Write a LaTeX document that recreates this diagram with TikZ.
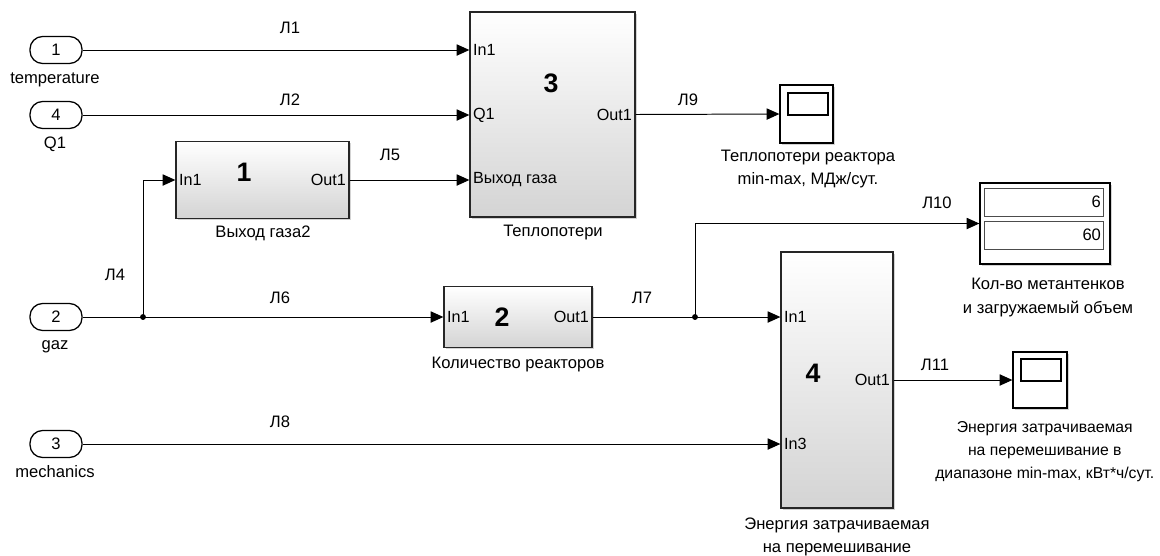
\documentclass[tikz,border=0pt]{standalone}
\usepackage{fontspec}
\setmainfont{Liberation Sans}
\usetikzlibrary{arrows.meta,calc,positioning,shadows}
\newcommand{\pxl}{0.7113pt}
\tikzset{
	blk/.style={draw=black!85,line width=0.9pt,top color=white,bottom color=black!17,
		drop shadow={shadow xshift=1.2pt,shadow yshift=-1.2pt,opacity=0.35}},
	inport/.style={draw,line width=0.9pt,rounded corners=9pt,fill=white,
		minimum width=52*\pxl,minimum height=27*\pxl,inner sep=0pt},
	scopebox/.style={draw,line width=0.9pt,fill=white,inner sep=0pt,
		drop shadow={shadow xshift=1.2pt,shadow yshift=-1.2pt,opacity=0.35}},
	sig/.style={line width=0.7pt,-{Triangle[length=9pt,width=8pt]}},
	wire/.style={line width=0.7pt},
	lbl/.style={inner sep=1pt,font=\fontsize{11.8}{16.4}\selectfont},
	port/.style={inner sep=2.5pt,font=\fontsize{11.5}{14}\selectfont},
	num/.style={inner sep=0pt,font=\fontsize{19}{20}\selectfont\bfseries},
	blkcap/.style={align=center,inner sep=1pt,font=\fontsize{11.8}{16.4}\selectfont}
}
\begin{document}
\begin{tikzpicture}[x=0.025cm,y=-0.025cm]
	\useasboundingbox (0,0) rectangle (1160,555);
	\node[inport] (in1) at (56,50) {\fontsize{11.8}{14}\selectfont 1};
	\node[inport] (in4) at (56,115) {\fontsize{11.8}{14}\selectfont 4};
	\node[inport] (in2) at (56,317) {\fontsize{11.8}{14}\selectfont 2};
	\node[inport] (in3) at (56,444) {\fontsize{11.8}{14}\selectfont 3};
	\path
	(55,80) node[blkcap]{temperature}
	(55,144) node[blkcap]{Q1}
	(55,347) node[blkcap]{gaz}
	(55,472) node[blkcap]{mechanics}
	;
	\node[blk,minimum width=173*\pxl,minimum height=77*\pxl] (b1) at (262.5,180) {};
	\node[blk,minimum width=165*\pxl,minimum height=205*\pxl] (b3) at (552.5,114.5) {};
	\node[blk,minimum width=148*\pxl,minimum height=61*\pxl] (b2) at (518,317) {};
	\node[blk,minimum width=112*\pxl,minimum height=256*\pxl] (b4) at (837,380) {};
	\node[scopebox,minimum width=53*\pxl,minimum height=58*\pxl] (s1) at (806.5,114) {};
	\node[scopebox,minimum width=54*\pxl,minimum height=56*\pxl] (s2) at (1040,380) {};
	\node[scopebox,minimum width=130*\pxl,minimum height=81*\pxl] (disp) at (1045,223.5) {};
	\draw[line width=0.8pt] ($(s1.center)+(-18.5,-21)$) rectangle ($(s1.center)+(21.5,1)$);
	\draw[line width=0.8pt] ($(s2.center)+(-19,-21)$) rectangle ($(s2.center)+(21,1)$);
	\draw[line width=0.6pt,draw=black!70] ($(disp.west)+(5,-35.5)$) rectangle ($(disp.east)+(-7,-7.5)$);
	\draw[line width=0.6pt,draw=black!70] ($(disp.west)+(5,-2.5)$) rectangle ($(disp.east)+(-7,25.5)$);
	\node[lbl,anchor=east] at ($(disp.east)+(-8,-21.5)$) {6};
	\node[lbl,anchor=east] at ($(disp.east)+(-8,11.5)$) {60};
	\node[num] at (244,172) {1};
	\node[num] at (551,83) {3};
	\node[num] at (502,317) {2};
	\node[num] at (813,373) {4};
	\node[port,right] at (b1.west) {In1};
	\node[port,left] at (b1.east) {Out1};
	\node[port,right] at (b3.west |- in1) {In1};
	\node[port,right] at (b3.west |- in4) {Q1};
	\node[port,right] at (b3.west |- b1) {Выход газа};
	\node[port,left] at (b3.east) {Out1};
	\node[port,right] at (b2.west) {In1};
	\node[port,left] at (b2.east) {Out1};
	\node[port,right] at (b4.west |- b2) {In1};
	\node[port,right] at (b4.west |- in3) {In3};
	\node[port,left] at (b4.east) {Out1};
	\node[blkcap] at (263,233) {Выход газа2};
	\node[blkcap] at (553,233) {Теплопотери};
	\node[blkcap] at (518,365) {Количество реакторов};
	\node[blkcap] at (837,537) {Энергия затрачиваемая\\на перемешивание};
	\node[blkcap] at (808,169) {Теплопотери реактора\\min-max, МДж/сут.};
	\node[blkcap] at (1048,297.5) {Кол-во метантенков\\ и загружаемый объем};
	\node[blkcap,anchor=east,font=\fontsize{11.2}{16.4}\selectfont] at (1156,451.5) {Энергия затрачиваемая\\на перемешивание в\\диапазоне min-max, кВт*ч/сут.};
	\coordinate (j1) at (143,317);
	\coordinate (j2) at (695,317);
	\draw[sig] (in1.east) -- (b3.west |- in1);
	\draw[sig] (in4.east) -- (b3.west |- in4);
	\draw[sig] (in2.east) -- (b2.west);
	\draw[sig] (j1) |- (b1.west);
	\draw[sig] (b1.east) -- (b3.west |- b1);
	\draw[sig] (b3.east) -- (s1.west);
	\draw[sig] (b2.east) -- (b4.west |- b2);
	\draw[sig] (j2) |- (disp.west);
	\draw[sig] (in3.east) -- (b4.west |- in3);
	\draw[sig] (b4.east) -- (s2.west);
	\fill (j1) circle (2.1pt) (j2) circle (2.1pt);
	\path
	(290,28) node[lbl]{Л1}
	(290,100) node[lbl]{Л2}
	(390,155) node[lbl]{Л5}
	(115,275) node[lbl]{Л4}
	(280,298) node[lbl]{Л6}
	(642,298) node[lbl]{Л7}
	(280,422) node[lbl]{Л8}
	(688,100) node[lbl]{Л9}
	(937,203) node[lbl]{Л10}
	(935,365) node[lbl]{Л11}
	;
\end{tikzpicture}
\end{document}
